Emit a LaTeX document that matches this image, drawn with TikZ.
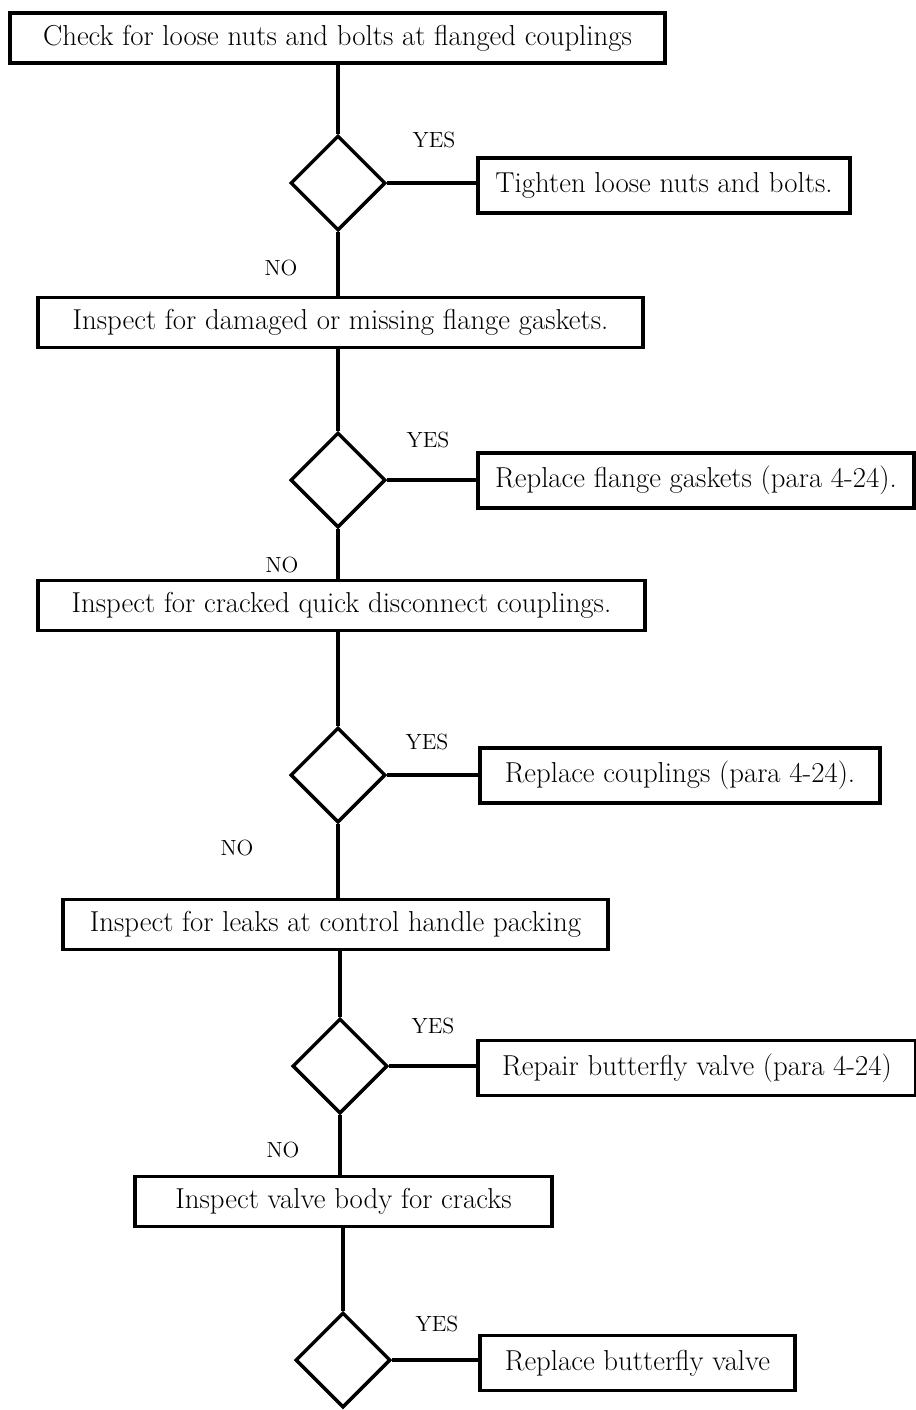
\documentclass[tikz,border=0pt]{standalone}
\usetikzlibrary{shapes.geometric}
\tikzset{
  stepbox/.style={draw, line width=1.8pt, minimum height=#1, inner sep=0pt},
  stepbox/.default=1.0cm,
  decide/.style={draw, diamond, line width=2pt, minimum width=1.9cm, minimum height=1.9cm, inner sep=0pt},
  link/.style={line width=2pt},
  answer/.style={font=\fontsize{12.5}{15}\selectfont}
}
\begin{document}
\begin{tikzpicture}[x=0.02cm, y=-0.02cm, font=\fontsize{16.4}{19}\selectfont]
  \useasboundingbox (0,0) rectangle (916,1410);
  % checks down the middle
  \node[stepbox, minimum width=13.1cm] (chk1) at (337.5,38) {Check for loose nuts and bolts at flanged couplings};
  \node[stepbox, minimum width=12.1cm] (chk2) at (340.5,322.5) {Inspect for damaged or missing flange gaskets.};
  \node[stepbox, minimum width=12.14cm] (chk3) at (341.5,605.5) {Inspect for cracked quick disconnect couplings.};
  \node[stepbox, minimum width=10.9cm] (chk4) at (335.5,924.5) {Inspect for leaks at control handle packing};
  \node[stepbox, minimum width=8.34cm] (chk5) at (343.5,1201.5) {Inspect valve body for cracks};
  % decisions
  \node[decide] (dec1) at (338,183) {};
  \node[decide] (dec2) at (338,480) {};
  \node[decide] (dec3) at (338,775) {};
  \node[decide] (dec4) at (340,1066) {};
  \node[decide] (dec5) at (343,1360) {};
  % actions on the right
  \node[stepbox=1.1cm, minimum width=7.44cm] (act1) at (664,185.5) {Tighten loose nuts and bolts.};
  \node[stepbox=1.1cm, minimum width=8.72cm] (act2) at (696,480.5) {Replace flange gaskets (para 4-24).};
  \node[stepbox=1.1cm, minimum width=8.0cm] (act3) at (680,775.5) {Replace couplings (para 4-24).};
  \node[stepbox=1.1cm, minimum width=8.76cm] (act4) at (697,1068) {Repair butterfly valve (para 4-24)};
  \node[stepbox=1.1cm, minimum width=6.3cm] (act5) at (637.5,1363) {Replace butterfly valve};
  % labels
  \node[answer] (yes1) at (434,140) {YES};
  \node[answer] (yes2) at (428,440) {YES};
  \node[answer] (yes3) at (427,742) {YES};
  \node[answer] (yes4) at (433,1026) {YES};
  \node[answer] (yes5) at (437,1324) {YES};
  \node[answer] (no1) at (281,268) {NO};
  \node[answer] (no2) at (282,565) {NO};
  \node[answer] (no3) at (237,848) {NO};
  \node[answer] (no4) at (283,1150) {NO};
  % connectors
  \draw[link] (dec1.north |- chk1.south) -- (dec1.north);
  \draw[link] (dec1.south) -- (dec1.south |- chk2.north);
  \draw[link] (dec2.north |- chk2.south) -- (dec2.north);
  \draw[link] (dec2.south) -- (dec2.south |- chk3.north);
  \draw[link] (dec3.north |- chk3.south) -- (dec3.north);
  \draw[link] (dec3.south) -- (dec3.south |- chk4.north);
  \draw[link] (dec4.north |- chk4.south) -- (dec4.north);
  \draw[link] (dec4.south) -- (dec4.south |- chk5.north);
  \draw[link] (dec5.north |- chk5.south) -- (dec5.north);
  \draw[link] (dec1.east) -- (dec1.east -| act1.west);
  \draw[link] (dec2.east) -- (dec2.east -| act2.west);
  \draw[link] (dec3.east) -- (dec3.east -| act3.west);
  \draw[link] (dec4.east) -- (dec4.east -| act4.west);
  \draw[link] (dec5.east) -- (dec5.east -| act5.west);
\end{tikzpicture}
\end{document}
